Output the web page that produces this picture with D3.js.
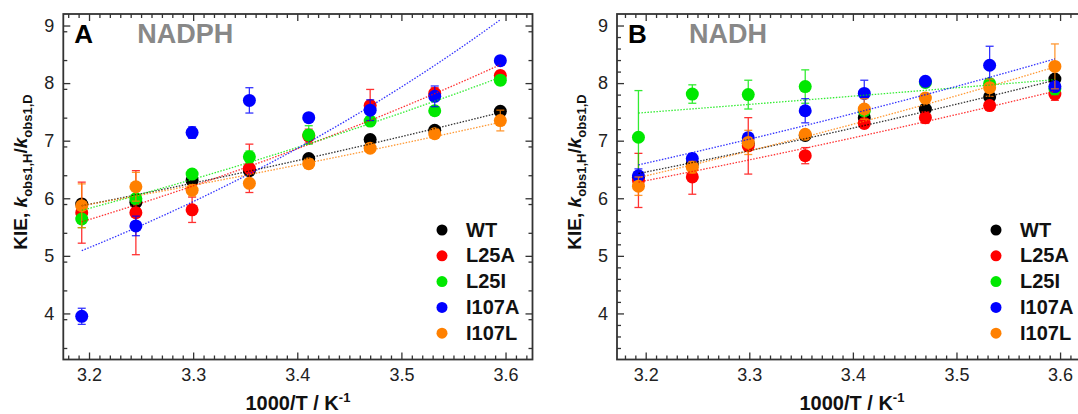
<!DOCTYPE html>
<html>
<head>
<meta charset="utf-8">
<script src="https://cdn.jsdelivr.net/npm/d3@7"></script>
<style>
  body { margin: 0; background: #fff; }
  svg text { font-family: "Liberation Sans", Arial, sans-serif; }
</style>
</head>
<body>
<svg id="chart" width="1078" height="414"></svg>
<script>
// 1000/T for 40, 35, 30, 25, 20, 15, 10, 5 °C
const invT = [3.193, 3.245, 3.299, 3.354, 3.411, 3.470, 3.532, 3.595];
const variants = ["WT", "L25A", "L25I", "I107A", "I107L"];
const colors = ["#000000", "#ff0000", "#00e800", "#0000ff", "#ff8000"];
const xTicks = [3.2, 3.3, 3.4, 3.5, 3.6];
const yTicks = [4, 5, 6, 7, 8, 9];

// Panel A - NADPH
const nadphWT    = [5.90, 5.93, 6.31, 6.48, 6.69, 7.02, 7.18, 7.51];
const nadphL25A  = [5.75, 5.75, 5.80, 6.52, 7.08, 7.61, 7.82, 8.13];
const nadphL25I  = [5.64, 5.99, 6.42, 6.72, 7.10, 7.34, 7.52, 8.05];
const nadphI107A = [3.95, 5.52, 7.14, 7.70, 7.40, 7.53, 7.77, 8.39];
const nadphI107L = [5.87, 6.20, 6.14, 6.26, 6.60, 6.87, 7.12, 7.35];
const nadphErrWT    = [0.08, 0.08, 0.06, 0.06, 0.06, 0.06, 0.06, 0.05];
const nadphErrL25A  = [0.53, 0.73, 0.22, 0.42, 0.12, 0.28, 0.10, 0.08];
const nadphErrL25I  = [0.15, 0.08, 0.06, 0.10, 0.16, 0.06, 0.06, 0.08];
const nadphErrI107A = [0.14, 0.17, 0.10, 0.22, 0.06, 0.18, 0.18, 0.05];
const nadphErrI107L = [0.38, 0.25, 0.10, 0.06, 0.08, 0.06, 0.08, 0.18];
// fitted line: KIE at first and last temperature
const nadphFit = [[5.87, 7.49], [5.59, 8.32], [5.79, 8.10], [5.09, 9.10], [5.87, 7.32]];

// Panel B - NADH
const nadhWT    = [6.36, 6.60, 6.95, 7.09, 7.40, 7.55, 7.76, 8.07];
const nadhL25A  = [6.31, 6.37, 6.91, 6.74, 7.30, 7.40, 7.61, 7.81];
const nadhL25I  = [7.06, 7.81, 7.80, 7.94, 7.52, 8.01, 7.99, 7.90];
const nadhI107A = [6.39, 6.69, 7.05, 7.52, 7.82, 8.03, 8.31, 7.94];
const nadhI107L = [6.21, 6.54, 6.97, 7.11, 7.55, 7.74, 7.92, 8.29];
const nadhErrWT    = [0.06, 0.06, 0.06, 0.06, 0.06, 0.06, 0.06, 0.06];
const nadhErrL25A  = [0.47, 0.30, 0.49, 0.14, 0.08, 0.10, 0.06, 0.11];
const nadhErrL25I  = [0.81, 0.16, 0.25, 0.29, 0.08, 0.08, 0.06, 0.10];
const nadhErrI107A = [0.12, 0.08, 0.08, 0.21, 0.23, 0.06, 0.33, 0.08];
const nadhErrI107L = [0.16, 0.10, 0.21, 0.08, 0.18, 0.08, 0.15, 0.39];
const nadhFit = [[6.43, 8.05], [6.28, 7.86], [7.48, 8.06], [6.58, 8.42], [6.36, 8.28]];

const panels = [
  { letter: "A", title: "NADPH", left: 63.3, right: 532.5, xDomain: [3.1753, 3.6259],
    values: [nadphWT, nadphL25A, nadphL25I, nadphI107A, nadphI107L],
    errors: [nadphErrWT, nadphErrL25A, nadphErrL25I, nadphErrI107A, nadphErrI107L],
    fits: nadphFit, yMinorStep: 0.5, legendX: 442, yLabelX: 27 },
  { letter: "B", title: "NADH", left: 617, right: 1086.9, xDomain: [3.1723, 3.6259],
    values: [nadhWT, nadhL25A, nadhL25I, nadhI107A, nadhI107L],
    errors: [nadhErrWT, nadhErrL25A, nadhErrL25I, nadhErrI107A, nadhErrI107L],
    fits: nadhFit, yMinorStep: 0.2, legendX: 996, yLabelX: 581 }
];

const plotTop = 14, plotBottom = 359.5;
const svg = d3.select("#chart");
const axisColor = "#333";

panels.forEach(p => {
  const x = d3.scaleLinear().domain(p.xDomain).range([p.left, p.right]);
  const y = d3.scaleLinear().domain([3.2, 9.2]).range([plotBottom, plotTop]);
  const g = svg.append("g");

  // ----- axes (ticks point inward on all four sides) -----
  const xMinor = d3.range(3.18, 3.625, 0.01).filter(v => Math.abs(v * 10 - Math.round(v * 10)) > 1e-6);
  const yMinor = d3.range(3.4, 9.2, p.yMinorStep).filter(v => Math.abs(v - Math.round(v)) > 1e-6);

  const styleAxis = sel => {
    sel.select(".domain").remove();
    sel.selectAll(".tick line").attr("stroke", axisColor).attr("stroke-width", 1.3);
    sel.selectAll("text").attr("fill", "#222").style("font-size", "18px");
  };

  g.append("g").attr("transform", `translate(0,${plotBottom})`)
    .call(d3.axisBottom(x).tickValues(xTicks).tickFormat(d3.format(".1f")).tickSize(-7).tickPadding(9))
    .call(styleAxis);
  g.append("g").attr("transform", `translate(0,${plotBottom})`)
    .call(d3.axisBottom(x).tickValues(xMinor).tickFormat("").tickSize(-4))
    .call(styleAxis);
  g.append("g").attr("transform", `translate(0,${plotTop})`)
    .call(d3.axisTop(x).tickValues(xTicks).tickFormat("").tickSize(-7))
    .call(styleAxis);
  g.append("g").attr("transform", `translate(0,${plotTop})`)
    .call(d3.axisTop(x).tickValues(xMinor).tickFormat("").tickSize(-4))
    .call(styleAxis);

  g.append("g").attr("transform", `translate(${p.left},0)`)
    .call(d3.axisLeft(y).tickValues(yTicks).tickFormat(d3.format("d")).tickSize(-7).tickPadding(9))
    .call(styleAxis);
  g.append("g").attr("transform", `translate(${p.left},0)`)
    .call(d3.axisLeft(y).tickValues(yMinor).tickFormat("").tickSize(-4))
    .call(styleAxis);
  g.append("g").attr("transform", `translate(${p.right},0)`)
    .call(d3.axisRight(y).tickValues(yTicks).tickFormat("").tickSize(-7))
    .call(styleAxis);
  g.append("g").attr("transform", `translate(${p.right},0)`)
    .call(d3.axisRight(y).tickValues(yMinor).tickFormat("").tickSize(-4))
    .call(styleAxis);

  g.append("rect")
    .attr("x", p.left).attr("y", plotTop)
    .attr("width", p.right - p.left).attr("height", plotBottom - plotTop)
    .attr("fill", "none").attr("stroke", axisColor).attr("stroke-width", 1.8);

  // ----- data: error bars + markers per series -----
  variants.forEach((name, i) => {
    const pts = invT.map((t, j) => ({ t, v: p.values[i][j], e: p.errors[i][j] }));
    const s = g.append("g").attr("class", "series");
    const eb = s.append("g")
      .attr("stroke", colors[i]).attr("stroke-width", 1.3).attr("opacity", 0.8);
    eb.selectAll("line.bar").data(pts).enter().append("line")
      .attr("x1", d => x(d.t)).attr("x2", d => x(d.t))
      .attr("y1", d => y(d.v - d.e)).attr("y2", d => y(d.v + d.e));
    eb.selectAll("line.capHi").data(pts).enter().append("line")
      .attr("x1", d => x(d.t) - 4).attr("x2", d => x(d.t) + 4)
      .attr("y1", d => y(d.v + d.e)).attr("y2", d => y(d.v + d.e));
    eb.selectAll("line.capLo").data(pts).enter().append("line")
      .attr("x1", d => x(d.t) - 4).attr("x2", d => x(d.t) + 4)
      .attr("y1", d => y(d.v - d.e)).attr("y2", d => y(d.v - d.e));
    s.selectAll("circle").data(pts).enter().append("circle")
      .attr("cx", d => x(d.t)).attr("cy", d => y(d.v))
      .attr("r", 6.5).attr("fill", colors[i]);
  });

  // ----- Arrhenius fits (straight in ln KIE) drawn as dotted curves -----
  const fitLine = d3.line().x(d => x(d[0])).y(d => y(d[1]));
  variants.forEach((name, i) => {
    const [k0, k1] = p.fits[i];
    const t0 = invT[0], t1 = invT[invT.length - 1];
    const curve = d3.range(0, 41).map(n => {
      const f = n / 40;
      return [t0 + f * (t1 - t0), k0 * Math.pow(k1 / k0, f)];
    });
    g.append("path")
      .attr("d", fitLine(curve))
      .attr("fill", "none").attr("stroke", colors[i])
      .attr("stroke-width", 1.3).attr("stroke-dasharray", "1.5,1.5").attr("opacity", 0.8);
  });

  // ----- panel letter + cofactor -----
  g.append("text").attr("x", p.left + 11).attr("y", 42.5)
    .style("font-size", "26px").style("font-weight", "bold").attr("fill", "#000").text(p.letter);
  g.append("text").attr("x", p.left + (p.letter === "A" ? 74 : 72)).attr("y", 42.5)
    .style("font-size", "27px").style("font-weight", "bold").attr("fill", "#888").text(p.title);

  // ----- legend -----
  const leg = g.append("g");
  variants.forEach((name, i) => {
    const ly = 230 + i * 25.8;
    leg.append("circle").attr("cx", p.legendX).attr("cy", ly).attr("r", 5.5).attr("fill", colors[i]);
    leg.append("text").attr("x", p.legendX + 24).attr("y", ly + 6.5)
      .style("font-size", "20px").style("font-weight", "bold").attr("fill", "#111").text(name);
  });

  // ----- axis titles -----
  const xt = g.append("text").attr("x", (p.left + Math.min(p.right, 1087)) / 2).attr("y", 410)
    .attr("text-anchor", "middle").style("font-size", "20px").style("font-weight", "bold").attr("fill", "#111");
  xt.append("tspan").text("1000/T / K");
  xt.append("tspan").attr("dy", -8).style("font-size", "13px").text("-1");

  const yt = g.append("text")
    .attr("transform", `translate(${p.yLabelX},${172}) rotate(-90)`)
    .attr("text-anchor", "middle").style("font-size", "19px").style("font-weight", "bold").attr("fill", "#111");
  yt.append("tspan").text("KIE, ");
  yt.append("tspan").style("font-style", "italic").text("k");
  yt.append("tspan").attr("dy", 5).style("font-size", "13px").text("obs1,H");
  yt.append("tspan").attr("dy", -5).text("/");
  yt.append("tspan").style("font-style", "italic").text("k");
  yt.append("tspan").attr("dy", 5).style("font-size", "13px").text("obs1,D");
});
</script>
</body>
</html>
